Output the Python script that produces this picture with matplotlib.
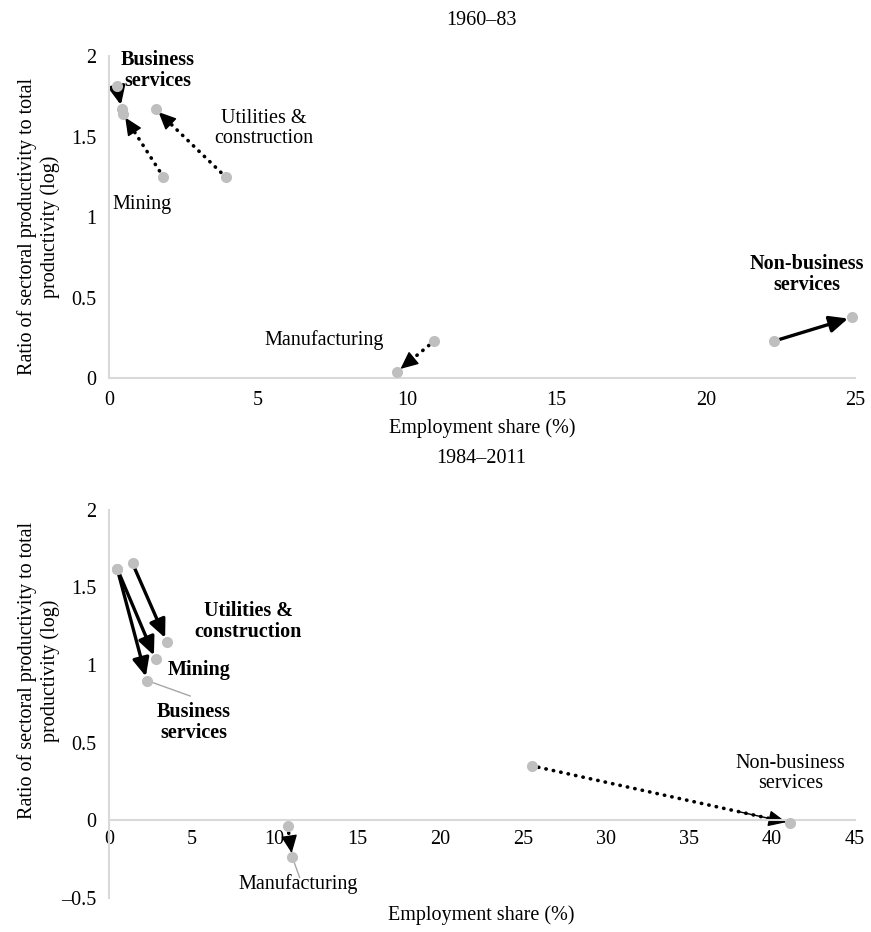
import matplotlib
matplotlib.use("Agg")
import matplotlib.pyplot as plt

plt.rcParams['font.family'] = ['Liberation Serif', 'DejaVu Serif']

# ---------------- data ----------------
# 1960-83
top_title = "1960\u201383"
top_x0 = [0.26, 1.82, 3.92, 10.9, 22.3]
top_y0 = [1.815, 1.25, 1.247, 0.23, 0.23]
top_x1 = [0.43, 0.47, 1.56, 9.66, 24.9]
top_y1 = [1.67, 1.64, 1.67, 0.04, 0.377]
top_solid = [True, False, False, False, True]
top_labels = ["Business\nservices", "Mining", "Utilities &\nconstruction", "Manufacturing", "Non-business\nservices"]
top_label_x = [1.65, 1.1, 5.2, 7.2, 23.4]
top_label_y = [1.91, 1.075, 1.55, 0.236, 0.645]
top_bold = [True, False, False, False, True]
top_xticks = [0, 5, 10, 15, 20, 25]
top_yticks = [0, 0.5, 1, 1.5, 2]
top_yticklabels = ["0", "0.5", "1", "1.5", "2"]

# 1984-2011
bot_title = "1984\u20132011"
bot_x0 = [0.5, 0.5, 1.42, 10.78, 25.5]
bot_y0 = [1.62, 1.62, 1.656, -0.039, 0.35]
bot_x1 = [2.29, 2.81, 3.49, 11.06, 41.1]
bot_y1 = [0.90, 1.037, 1.15, -0.24, -0.02]
bot_solid = [True, True, True, False, False]
bot_labels = ["Business\nservices", "Mining", "Utilities &\nconstruction", "Manufacturing", "Non-business\nservices"]
bot_label_x = [5.1, 5.45, 8.4, 11.4, 41.1]
bot_label_y = [0.63, 0.97, 1.28, -0.41, 0.30]
bot_bold = [True, True, True, False, False]
# leader lines (sector index, end point)
bot_leader_idx = [0, 3]
bot_leader_x = [4.9, 11.5]
bot_leader_y = [0.80, -0.37]
bot_xticks = [0, 5, 10, 15, 20, 25, 30, 35, 40, 45]
bot_yticks = [-0.5, 0, 0.5, 1, 1.5, 2]
bot_yticklabels = ["\u20130.5", "0", "0.5", "1", "1.5", "2"]

xlabel = "Employment share (%)"
ylabel = "Ratio of sectoral productivity to total\nproductivity (log)"

FS = 14.5
GRID = '#D9D9D9'
DOT = '#BFBFBF'
HEAD = '-|>,head_length=0.55,head_width=0.25'

fig = plt.figure(figsize=(8.71, 9.32), dpi=100)
ax1 = fig.add_axes([0.1251, 0.5944, 0.8565, 0.3455])
ax2 = fig.add_axes([0.1251, 0.0370, 0.8565, 0.4158])


def style_axes(ax, xlim, ylim, xticks, yticks, yticklabels):
    ax.set_xlim(*xlim)
    ax.set_ylim(*ylim)
    for s in ['top', 'right']:
        ax.spines[s].set_visible(False)
    for s in ['left', 'bottom']:
        ax.spines[s].set_color(GRID)
        ax.spines[s].set_linewidth(1.5)
    ax.set_xticks(xticks)
    ax.set_xticklabels([str(t) for t in xticks])
    ax.set_yticks(yticks)
    ax.set_yticklabels(yticklabels)
    ax.tick_params(length=0, labelsize=FS, pad=9)
    ax.patch.set_alpha(0)


def draw_arrows(ax, x0, y0, x1, y1, solid):
    for a, b, c, d, s in zip(x0, y0, x1, y1, solid):
        if s:
            ax.annotate("", xy=(c, d), xytext=(a, b),
                        arrowprops=dict(arrowstyle=HEAD, color='black', lw=2.4,
                                        mutation_scale=20, shrinkA=2, shrinkB=3),
                        zorder=2)
        else:
            # dotted shaft
            ax.annotate("", xy=(c, d), xytext=(a, b),
                        arrowprops=dict(arrowstyle='-', color='black', lw=2.6,
                                        linestyle=(0, (0.1, 2.0)), capstyle='round',
                                        shrinkA=5, shrinkB=12),
                        zorder=2)
            # solid head
            ax.annotate("", xy=(c, d), xytext=(a + (c - a) * 0.8, b + (d - b) * 0.8),
                        arrowprops=dict(arrowstyle=HEAD, color='black', lw=1.0,
                                        mutation_scale=20, shrinkA=0, shrinkB=3),
                        zorder=2)
    ax.plot(x0, y0, 'o', color=DOT, ms=8, mec='none', zorder=3, clip_on=False)
    ax.plot(x1, y1, 'o', color=DOT, ms=8, mec='none', zorder=3, clip_on=False)


# ---- top panel ----
style_axes(ax1, (0, 25), (0, 2), top_xticks, top_yticks, top_yticklabels)
draw_arrows(ax1, top_x0, top_y0, top_x1, top_y1, top_solid)
for t, x, y, b in zip(top_labels, top_label_x, top_label_y, top_bold):
    ax1.text(x, y, t, ha='center', va='center', fontsize=FS,
             fontweight='bold' if b else 'normal', linespacing=1.05)
ax1.set_xlabel(xlabel, fontsize=FS, labelpad=6)
ax1.set_ylabel(ylabel, fontsize=FS)
ax1.yaxis.set_label_coords(-0.066, 0.47)
fig.text(0.553, 0.978, top_title, ha='center', va='center', fontsize=FS)

# ---- bottom panel ----
style_axes(ax2, (0, 45), (-0.5, 2), bot_xticks, bot_yticks, bot_yticklabels)
ax2.spines['bottom'].set_position(('data', 0))
ax2.tick_params(axis='x', pad=7)
for i, lx, ly in zip(bot_leader_idx, bot_leader_x, bot_leader_y):
    ax2.plot([bot_x1[i], lx], [bot_y1[i], ly], color='#A6A6A6', lw=1.0, zorder=1)
draw_arrows(ax2, bot_x0, bot_y0, bot_x1, bot_y1, bot_solid)
for t, x, y, b in zip(bot_labels, bot_label_x, bot_label_y, bot_bold):
    ax2.text(x, y, t, ha='center', va='center', fontsize=FS,
             fontweight='bold' if b else 'normal', linespacing=1.05)
ax2.set_ylabel(ylabel, fontsize=FS)
ax2.yaxis.set_label_coords(-0.066, 0.585)
fig.text(0.553, 0.018, xlabel, ha='center', va='center', fontsize=FS)
fig.text(0.553, 0.508, bot_title, ha='center', va='center', fontsize=FS)

fig.savefig("out.png", dpi=100)
